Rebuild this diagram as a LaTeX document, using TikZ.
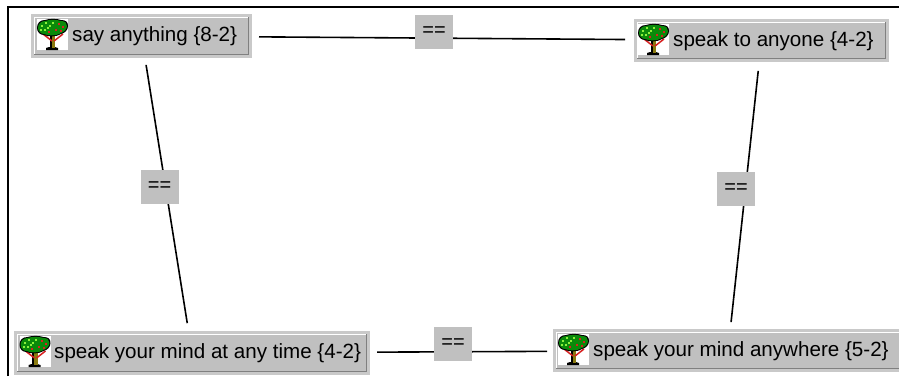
\documentclass[tikz,border=0pt]{standalone}
\usepackage{fontspec}
\setmainfont{Liberation Sans}
\definecolor{btnfill}{HTML}{C0C0C0}
\definecolor{halo}{HTML}{C9C9C9}
\definecolor{bevelgrey}{HTML}{808080}
\definecolor{leaf}{HTML}{0A8A0A}
\definecolor{leaflight}{HTML}{8CF03C}
\definecolor{berry}{HTML}{D82020}
\definecolor{bark}{HTML}{8A7A10}
\tikzset{
  x=1pt,y=-1pt,
  frameline/.style={line width=2pt,black},
  link/.style={line width=1.6pt,black},
  btnbox/.style={draw=none,fill=btnfill,inner sep=0pt,outer sep=0pt},
  btnlabel/.style={anchor=base west,inner sep=0pt,font=\fontsize{20.6}{24}\selectfont,text=black},
  eqbox/.style={fill=btnfill,inner sep=0pt,outer sep=0pt,minimum width=38pt,minimum height=34pt,font=\fontsize{20}{22}\selectfont,text=black},
  pics/tree/.style={code={
    \fill[white] (0,0) rectangle (31,31);
    \fill[black] (9,31) -- (21,31) -- (21,29) -- (18,28) -- (12,28) -- (9,29) -- cycle;
    \fill[bark] (14,29) rectangle (18,17);
    \fill[black] (12.5,29) rectangle (14.5,17);
    \draw[berry,line width=1.5pt] (15,22) -- (6,15) (17,22) -- (26,15);
    \fill[black] (0,9) .. controls (0,4) and (3,1) .. (8,1) .. controls (12,-0.5) and (20,-0.5) .. (24,1) .. controls (29,1) and (31,3) .. (31,7) .. controls (31,11) and (28,14) .. (24,15) .. controls (20,18) and (11,18) .. (7,16) .. controls (3,16) and (0,13) .. (0,9) -- cycle;
    \fill[leaf] (1,9) .. controls (1,5) and (4,2) .. (8,2) .. controls (12,0.5) and (20,0.5) .. (24,2) .. controls (28,2) and (30,4) .. (30,7) .. controls (30,10) and (27,13) .. (24,14) .. controls (20,17) and (11,17) .. (7,15) .. controls (4,15) and (1,12) .. (1,9) -- cycle;
    \foreach \px/\py in {4/6,8/3,12/6,7/10,15/3,3/10,10/8}{\fill[leaflight] (\px,\py) rectangle +(2,2);}
    \foreach \px/\py in {21/4,25/7,18/10,11/12,23/11}{\fill[berry] (\px,\py) rectangle +(2,2);}
  }}
}
\newcommand{\btnnode}[9]{%
  % #1 name, #2-#5 box x1 y1 x2 y2, #6 #7 icon x y, #8 text x, #9 text
  \fill[halo] (#2,#3) rectangle (#4,#5);
  \node[btnbox,minimum width=#4pt-#2pt-6pt,minimum height=#5pt-#3pt-6pt] (#1) at ({(#2+#4)/2},{(#3+#5)/2}) {};
  \draw[white,line width=1pt] (#2+3,#5-3) -- (#2+3,#3+3) -- (#4-3,#3+3);
  \draw[bevelgrey,line width=1.5pt] (#2+3,#5-3.5) -- (#4-3.5,#5-3.5) -- (#4-3.5,#3+3);
  \pic at (#6,#7) {tree};
  \node[btnlabel] (#1-t) at (#8,#7+22) {#9};
}
\begin{document}
\begin{tikzpicture}
\useasboundingbox (0,0) rectangle (899,376);
\fill[white] (0,0) rectangle (899,376);
\draw[frameline] (7.5,376) -- (7.5,7) -- (899,7);
\btnnode{a}{31}{14}{252}{58}{37}{19}{72}{say anything \{8-2\}}
\btnnode{b}{634}{19}{889}{62}{638}{24}{673}{speak to anyone \{4-2\}}
\btnnode{c}{14}{331}{370}{375}{19.5}{336}{54}{speak your mind at any time \{4-2\}}
\btnnode{d}{553}{329}{903}{372}{558}{334}{593}{speak your mind anywhere \{5-2\}}
\draw[link,shorten <=10pt,shorten >=12pt] (a) -- (b);
\draw[link,shorten <=10pt,shorten >=11pt] (a) -- (c);
\draw[link,shorten <=12pt,shorten >=10pt] (b) -- (d);
\draw[link,shorten <=10pt,shorten >=9pt] (c) -- (d);
\node[eqbox] (e1) at (434,32) {==};
\node[eqbox] (e2) at (159.5,187) {==};
\node[eqbox] (e3) at (736,189) {==};
\node[eqbox] (e4) at (453,344) {==};
\end{tikzpicture}
\end{document}
